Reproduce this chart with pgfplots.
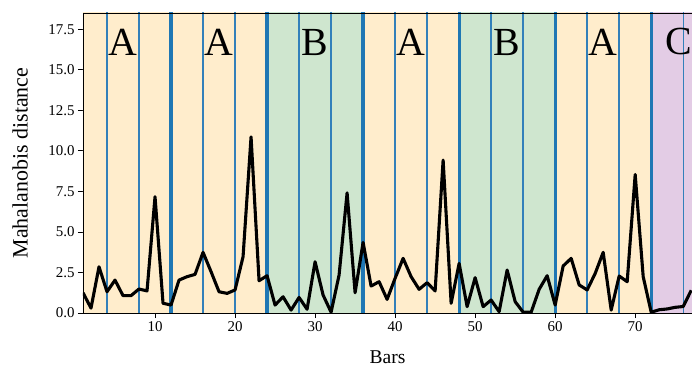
\documentclass[border=0pt]{standalone}
\usepackage{fontspec}
\setmainfont{Liberation Serif}
\usepackage{pgfplots}
\pgfplotsset{compat=1.18}
\usepackage{pgfplotstable}
\definecolor{orangebg}{RGB}{255,237,204}
\definecolor{greenbg}{RGB}{207,230,207}
\definecolor{purplebg}{RGB}{227,204,229}
\definecolor{tabblue}{RGB}{31,119,180}
\definecolor{thinblue}{RGB}{50,128,186}
\pgfplotstableread{
x y
1 1.25
2 0.3
3 2.85
4 1.31
5 2.03
6 1.07
7 1.07
8 1.48
9 1.36
10 7.17
11 0.6
12 0.49
13 2.03
14 2.24
15 2.38
16 3.74
17 2.55
18 1.31
19 1.21
20 1.42
21 3.47
22 10.86
23 1.99
24 2.30
25 0.49
26 1.0
27 0.18
28 0.96
29 0.23
30 3.16
31 1.11
32 0.05
33 2.34
34 7.41
35 1.25
36 4.35
37 1.66
38 1.93
39 0.84
40 2.14
41 3.37
42 2.24
43 1.46
44 1.87
45 1.36
46 9.43
47 0.6
48 3.06
49 0.39
50 2.18
51 0.39
52 0.8
53 0.08
54 2.65
55 0.7
56 0.05
57 0.05
58 1.46
59 2.30
60 0.49
61 2.9
62 3.37
63 1.73
64 1.42
65 2.44
66 3.74
67 0.18
68 2.28
69 1.93
70 8.54
71 2.24
72 0.05
73 0.2
74 0.25
75 0.35
76 0.4
77 1.4
}\datatable
\begin{document}
\begin{tikzpicture}
\begin{axis}[
  name=ax,
  scale only axis,
  width=609bp, height=300bp,
  xmin=1, xmax=77.1,
  ymin=0, ymax=18.5,
  xtick={10,20,30,40,50,60,70},
  ytick={0,2.5,5,7.5,10,12.5,15,17.5},
  tick pos=left,
  tick align=outside,
  major tick length=5bp,
  tick style={black, line width=0.8bp},
  axis line style={draw=none},
  /pgf/number format/assume math mode=true,
  yticklabel style={/pgf/number format/fixed, /pgf/number format/fixed zerofill, /pgf/number format/precision=1},
  ticklabel style={font=\fontsize{15}{18}\selectfont},
  xlabel={Bars},
  ylabel={Mahalanobis distance},
  xlabel style={font=\fontsize{19.6}{23}\selectfont, at={(axis description cs:0.5,-0.147)}, anchor=center},
  ylabel style={font=\fontsize{22}{26}\selectfont, at={(axis description cs:-0.1034,0.5)}, anchor=center},
]
% background regions
\addplot[fill=orangebg, draw=none] coordinates {(0,20) (12,20)} \closedcycle;
\addplot[fill=orangebg, draw=none] coordinates {(12,20) (24,20)} \closedcycle;
\addplot[fill=greenbg, draw=none] coordinates {(24,20) (36,20)} \closedcycle;
\addplot[fill=orangebg, draw=none] coordinates {(36,20) (48,20)} \closedcycle;
\addplot[fill=greenbg, draw=none] coordinates {(48,20) (60,20)} \closedcycle;
\addplot[fill=orangebg, draw=none] coordinates {(60,20) (72,20)} \closedcycle;
\addplot[fill=purplebg, draw=none] coordinates {(72,20) (90,20)} \closedcycle;
% thin lines
\addplot[thinblue, line width=1.4bp] coordinates {(4,0)(4,20)};
\addplot[thinblue, line width=1.4bp] coordinates {(8,0)(8,20)};
\addplot[thinblue, line width=1.4bp] coordinates {(16,0)(16,20)};
\addplot[thinblue, line width=1.4bp] coordinates {(20,0)(20,20)};
\addplot[thinblue, line width=1.4bp] coordinates {(28,0)(28,20)};
\addplot[thinblue, line width=1.4bp] coordinates {(32,0)(32,20)};
\addplot[thinblue, line width=1.4bp] coordinates {(40,0)(40,20)};
\addplot[thinblue, line width=1.4bp] coordinates {(44,0)(44,20)};
\addplot[thinblue, line width=1.4bp] coordinates {(52,0)(52,20)};
\addplot[thinblue, line width=1.4bp] coordinates {(56,0)(56,20)};
\addplot[thinblue, line width=1.4bp] coordinates {(64,0)(64,20)};
\addplot[thinblue, line width=1.4bp] coordinates {(68,0)(68,20)};
\addplot[thinblue, line width=1.4bp] coordinates {(76,0)(76,20)};
% thick lines
\addplot[tabblue, line width=3.2bp] coordinates {(12,0)(12,20)};
\addplot[tabblue, line width=3.2bp] coordinates {(24,0)(24,20)};
\addplot[tabblue, line width=3.2bp] coordinates {(36,0)(36,20)};
\addplot[tabblue, line width=3.2bp] coordinates {(48,0)(48,20)};
\addplot[tabblue, line width=3.2bp] coordinates {(60,0)(60,20)};
\addplot[tabblue, line width=3.2bp] coordinates {(72,0)(72,20)};
% data
\addplot[black, line width=3.1bp, line join=round, mark=none] table[x=x,y=y] {\datatable};
% labels
\node[anchor=base, font=\fontsize{40}{48}\selectfont, inner sep=0pt] at (axis cs:6,15.9) {A};
\node[anchor=base, font=\fontsize{40}{48}\selectfont, inner sep=0pt] at (axis cs:18,15.9) {A};
\node[anchor=base, font=\fontsize{40}{48}\selectfont, inner sep=0pt] at (axis cs:30,15.9) {B};
\node[anchor=base, font=\fontsize{40}{48}\selectfont, inner sep=0pt] at (axis cs:42,15.9) {A};
\node[anchor=base, font=\fontsize{40}{48}\selectfont, inner sep=0pt] at (axis cs:54,15.9) {B};
\node[anchor=base, font=\fontsize{40}{48}\selectfont, inner sep=0pt] at (axis cs:66,15.9) {A};
\end{axis}
\draw[black, line width=0.8bp] (ax.north west) -- (ax.north east);
\draw[black, line width=0.8bp] (ax.north west) -- (ax.south west) -- (ax.south east);
\node[anchor=base west, font=\fontsize{40}{48}\selectfont, inner sep=0pt] at ([xshift=-27bp, yshift=-41.7bp] ax.north east) {C};
\pgfresetboundingbox
\path[use as bounding box] ([xshift=-83bp,yshift=-54bp]ax.south west) rectangle ([yshift=13bp]ax.north east);
\end{tikzpicture}
\end{document}
